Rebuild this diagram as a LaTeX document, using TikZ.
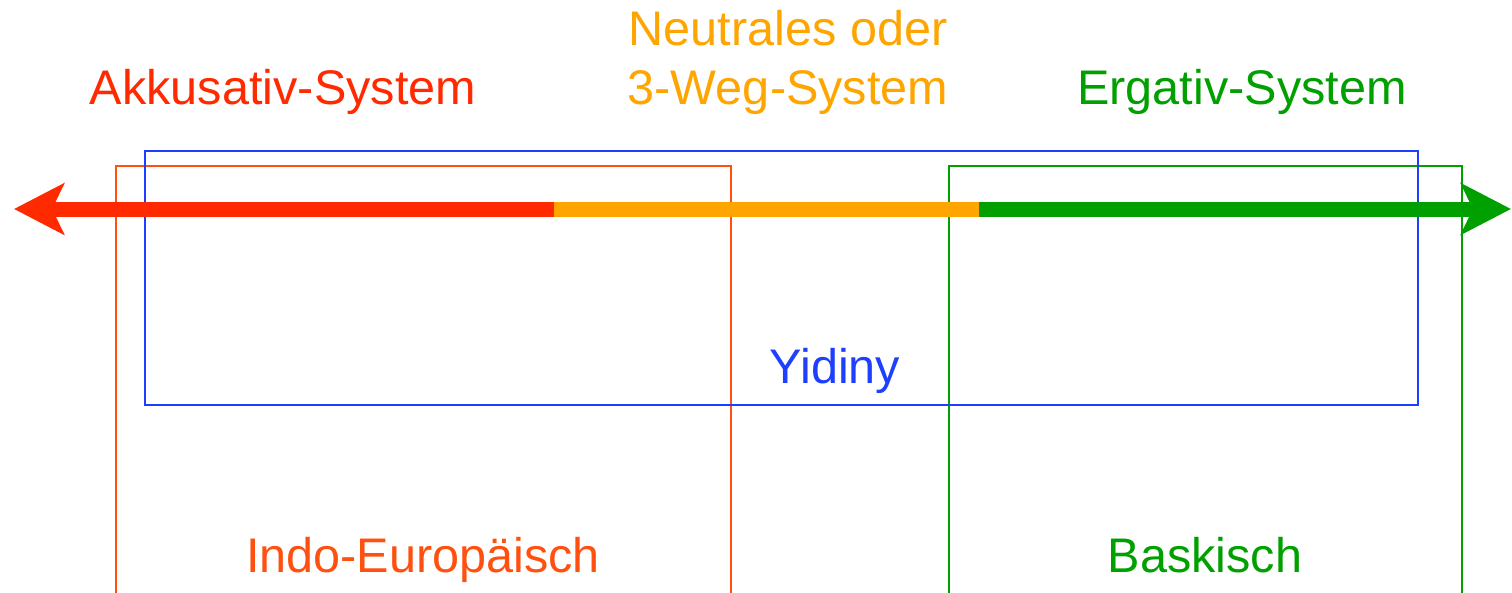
\documentclass[tikz,border=0pt]{standalone}
\usepackage{fontspec}
\setmainfont{Liberation Sans}
\usetikzlibrary{arrows.meta}
\definecolor{cred}{HTML}{FF2A00}
\definecolor{corange}{HTML}{FFA500}
\definecolor{cgreen}{HTML}{00A000}
\definecolor{cblue}{HTML}{1F3FFF}
\definecolor{cbox}{HTML}{FF5010}
\tikzset{
  lbl/.style={font=\fontsize{48.6}{56}\selectfont, inner sep=0pt, anchor=base, align=center},
  bar/.style={line width=15pt},
  tipL/.style={-{Stealth[length=50pt,width=51pt,inset=12pt]}},
  frame/.style={line width=2pt}
}
\begin{document}
\begin{tikzpicture}[x=1pt,y=-1pt]
\useasboundingbox (0,0) rectangle (1512,592);
\begin{scope}
\clip (0,0) rectangle (1512,592);
\draw[frame, cbox] (116,620) -- (116,166) -- (731,166) -- (731,620);
\draw[frame, cgreen] (949,620) -- (949,166) -- (1462,166) -- (1462,620);
\draw[frame, cblue] (145,151) rectangle (1418,405);
\end{scope}
\coordinate (L) at (14,209);
\coordinate (A) at (554,209);
\coordinate (B) at (979,209);
\coordinate (R) at (1511,209);
\draw[bar, corange] (A) -- (B);
\draw[bar, cred, tipL] (A) -- (L);
\draw[bar, cgreen, tipL] (B) -- (R);
\node[lbl, text=cred] (akk) at (283,104) {Akkusativ-System};
\node[lbl, text=corange] (neu1) at (788,45) {Neutrales oder};
\node[lbl, text=corange] (neu2) at (788,104) {3-Weg-System};
\node[lbl, text=cgreen] (erg) at (1242,104) {Ergativ-System};
\node[lbl, text=cblue] (yid) at (835,383) {Yidiny};
\node[lbl, text=cbox] (ie) at (423,572) {Indo-Europäisch};
\node[lbl, text=cgreen] (bas) at (1205,572) {Baskisch};
\end{tikzpicture}
\end{document}
